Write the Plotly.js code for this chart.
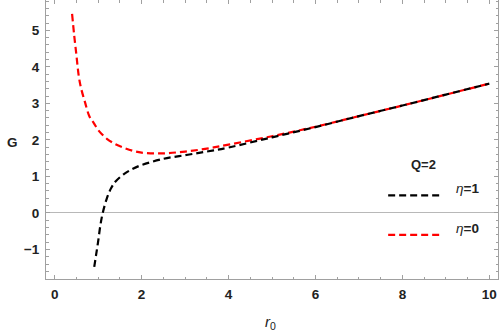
<!DOCTYPE html>
<html><head><meta charset="utf-8">
<script src="https://cdn.plot.ly/plotly-3.0.1.min.js"></script>
<style>html,body{margin:0;padding:0;background:#fff}#plot{width:500px;height:331px}</style>
</head><body><div id="plot"></div>
<script>
// eta = 0 (red)
const r0_eta0 = [0.4,0.45,0.5,0.55,0.6,0.7,0.8,0.9,1.0,1.2,1.4,1.6,1.8,2.0,2.5,3.0,3.5,4.0,5.0,6.0,7.0,8.0,9.0,10.0];
const G_eta0  = [5.45,4.85,4.32,3.78,3.45,3.02,2.64,2.46,2.27,2.03,1.88,1.78,1.70,1.65,1.63,1.68,1.76,1.87,2.10,2.36,2.65,2.94,3.24,3.54];
// eta = 1 (black)
const r0_eta1 = [0.91,0.95,1.0,1.05,1.1,1.2,1.3,1.4,1.6,1.8,2.0,2.5,3.0,3.5,4.0,5.0,6.0,7.0,8.0,9.0,10.0];
const G_eta1  = [-1.48,-1.17,-0.78,-0.35,-0.03,0.40,0.68,0.86,1.07,1.21,1.31,1.48,1.58,1.68,1.79,2.07,2.35,2.65,2.94,3.24,3.54];
const legendTitle = "Q=2";
const legendLabels = ["η=1","η=0"];
const colors = ["#000000","#ff0000"];

const FONT = "Liberation Sans, Arial, sans-serif";
const dash = "7px,4px";
const traces = [
  {x:r0_eta0, y:G_eta0, mode:"lines", line:{color:colors[1], width:2.2, dash:dash, shape:"spline"}, name:legendLabels[1]},
  {x:r0_eta1, y:G_eta1, mode:"lines", line:{color:colors[0], width:2.2, dash:dash, shape:"spline"}, name:legendLabels[0]}
];
const tickFont = {family:FONT, size:13.5, color:"#222", weight:"bold"};
const axisCommon = {
  showgrid:false, showline:true, linecolor:"#a0a0a0", linewidth:1, mirror:"allticks",
  ticks:"inside", ticklen:4, tickcolor:"#a0a0a0", tickwidth:1, tickfont:tickFont
};
const layout = {
  width:500, height:331,
  margin:{l:46, r:2, t:0, b:52},
  paper_bgcolor:"#fff", plot_bgcolor:"#fff",
  font:{family:FONT, size:13, color:"#222"},
  showlegend:false,
  xaxis:Object.assign({}, axisCommon, {
    range:[-0.2,10.2], tickvals:[0,2,4,6,8,10], zeroline:false,
    minor:{ticks:"inside", dtick:0.5, ticklen:2.5, tickcolor:"#a0a0a0", showgrid:false},
    ticklabelstandoff:3
  }),
  yaxis:Object.assign({}, axisCommon, {
    range:[-1.81,5.83], tickvals:[-1,0,1,2,3,4,5],
    zeroline:true, zerolinecolor:"#b8b8b8", zerolinewidth:1,
    minor:{ticks:"inside", dtick:0.2, ticklen:2.5, tickcolor:"#a0a0a0", showgrid:false},
    ticklabelstandoff:3
  }),
  shapes:[
    {type:"line", xref:"paper", yref:"paper", x0:0.757, x1:0.874, y0:0.30, y1:0.30, line:{color:colors[0], width:2.2, dash:dash}},
    {type:"line", xref:"paper", yref:"paper", x0:0.757, x1:0.874, y0:0.158, y1:0.158, line:{color:colors[1], width:2.2, dash:dash}}
  ],
  annotations:[
    {xref:"paper", yref:"paper", x:-0.09, y:0.49, text:"G", showarrow:false, font:{family:FONT, size:13.5, color:"#222", weight:"bold"}},
    {xref:"paper", yref:"paper", x:0.496, y:-0.155, yanchor:"middle", text:"<i>r</i><sub>0</sub>", showarrow:false, font:{family:FONT, size:15, color:"#222"}},
    {xref:"paper", yref:"paper", x:0.867, y:0.41, text:"<b>"+legendTitle+"</b>", showarrow:false, font:{family:FONT, size:13, color:"#222"}},
    {xref:"paper", yref:"paper", x:0.903, y:0.29, xanchor:"left", text:"<i>η</i><b>=1</b>", showarrow:false, font:{family:FONT, size:13.5, color:"#222"}},
    {xref:"paper", yref:"paper", x:0.903, y:0.148, xanchor:"left", text:"<i>η</i><b>=0</b>", showarrow:false, font:{family:FONT, size:13.5, color:"#222"}}
  ]
};
Plotly.newPlot("plot", traces, layout, {staticPlot:true, displayModeBar:false});
</script>
</body></html>
